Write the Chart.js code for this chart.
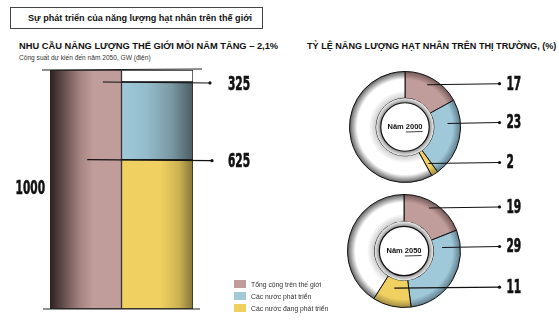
<!DOCTYPE html>
<html>
<head>
<meta charset="utf-8">
<script src="https://cdn.jsdelivr.net/npm/chart.js@4.4.1/dist/chart.umd.min.js"></script>
<style>
  body { margin:0; width:559px; height:327px; background:#fff; position:relative; overflow:hidden;
         font-family:'Liberation Sans', Arial, sans-serif; color:#111; }
  .abs { position:absolute; white-space:nowrap; }
  #titlebox { left:10px; top:7px; width:253px; height:22px; border:1px solid #444; box-sizing:border-box;
              font-size:9.1px; font-weight:bold; line-height:20px; padding-left:17px; }
  .head { font-size:9.3px; font-weight:bold; }
  .sub { font-size:6.6px; color:#333; }
  #legend div { height:12px; font-size:6.8px; color:#333; line-height:12px; }
  #legend span { display:inline-block; width:12px; height:8px; vertical-align:middle; margin-right:5px; margin-top:-2px; }
  canvas { position:absolute; }
</style>
</head>
<body>
<div id="titlebox" class="abs">Sự phát triển của năng lượng hạt nhân trên thế giới</div>
<div class="abs head" style="left:19px;top:41px">NHU CẦU NĂNG LƯỢNG THẾ GIỚI MỖI NĂM TĂNG – 2,1%</div>
<div class="abs sub" style="left:19px;top:54px">Công suất dự kiến đến năm 2050,  GW (điện)</div>
<div class="abs head" style="left:307px;top:41px;font-size:9.1px">TỶ LỆ NĂNG LƯỢNG HẠT NHÂN TRÊN THỊ TRƯỜNG, (%)</div>

<canvas id="bars" width="280" height="267" style="left:0;top:60px"></canvas>
<canvas id="d2000" width="219" height="130" style="left:340px;top:62px"></canvas>
<canvas id="d2050" width="219" height="135" style="left:340px;top:192px"></canvas>
<div id="legend" class="abs" style="left:234px;top:279px"></div>

<script>
// data
var seriesNames = ['Tổng cộng trên thế giới', 'Các nước phát triển', 'Các nước đang phát triển'];
var worldTotal = 1000;
var developed = 325;
var developing = 625;
var years = ['Năm 2000', 'Năm 2050'];
var share2000 = [17, 23, 2];
var share2050 = [19, 29, 11];

var pink = '#c09c9a', blue = '#9fc8d9', yellow = '#efd060';
var colors = [pink, blue, yellow];

// legend
var lg = document.getElementById('legend');
seriesNames.forEach(function (n, i) {
    var d = document.createElement('div');
    d.innerHTML = '<span style="background:' + colors[i] + '"></span>' + n;
    lg.appendChild(d);
});

function bigLabel(ctx, text, x, y, align) {
    var sx = 0.62;
    ctx.save();
    ctx.font = 'bold 19px "Liberation Sans Narrow", "DejaVu Sans Condensed", sans-serif';
    ctx.fillStyle = '#111';
    ctx.strokeStyle = '#111';
    ctx.lineWidth = 0.6;
    ctx.textBaseline = 'middle';
    var w = ctx.measureText(text).width * sx;
    ctx.translate(align === 'right' ? x - w : x, y);
    ctx.scale(sx, 1);
    ctx.fillText(text, 0, 0);
    ctx.strokeText(text, 0, 0);
    ctx.restore();
}

function leader(ctx, x0, y0, x1, y1) {
    ctx.save();
    ctx.strokeStyle = '#111';
    ctx.lineWidth = 1.1;
    ctx.beginPath();
    ctx.moveTo(x0, y0);
    ctx.lineTo(x1, y1);
    ctx.stroke();
    ctx.fillStyle = '#111';
    ctx.beginPath();
    ctx.arc(x1, y1, 1.6, 0, Math.PI * 2);
    ctx.fill();
    ctx.restore();
}

// bar gradients (stipple look)
function barFill(base, stops) {
    return function (c) {
        var chart = c.chart, area = chart.chartArea;
        if (!area) return base;
        var bw = area.width / 2;
        var cx = chart.scales.x.getPixelForValue(c.dataIndex);
        var g = chart.ctx.createLinearGradient(cx - bw / 2, 0, cx + bw / 2, 0);
        stops.forEach(function (s) { g.addColorStop(s[0], s[1]); });
        return g;
    };
}

var barDecor = {
    id: 'barDecor',
    afterDraw: function (chart) {
        var ctx = chart.ctx, a = chart.chartArea, x = chart.scales.x, y = chart.scales.y;
        var bw = a.width / 2;
        ctx.save();
        ctx.strokeStyle = '#222';
        ctx.lineWidth = 1.2;
        ctx.beginPath();
        ctx.moveTo(a.left - 8, y.getPixelForValue(worldTotal));
        ctx.lineTo(a.right + 9, y.getPixelForValue(worldTotal) - 1);
        ctx.moveTo(a.left - 7, y.getPixelForValue(0));
        ctx.lineTo(a.right + 7, y.getPixelForValue(0));
        ctx.stroke();
        ctx.restore();
        var yDev = y.getPixelForValue(developing + developed);
        var yIng = y.getPixelForValue(developing);
        leader(ctx, x.getPixelForValue(0) + bw * 0.24, yDev, a.right + 17, yDev + 1);
        leader(ctx, x.getPixelForValue(0) + bw * 0.02, yIng, a.right + 19, yIng + 1);
        bigLabel(ctx, String(developed), a.right + 35, yDev + 3);
        bigLabel(ctx, String(developing), a.right + 35, yIng + 2);
        bigLabel(ctx, String(worldTotal), a.left - 5, (y.getPixelForValue(worldTotal) + y.getPixelForValue(0)) / 2, 'right');
    }
};

new Chart(document.getElementById('bars'), {
    type: 'bar',
    data: {
        labels: ['world', '2050'],
        datasets: [
            { label: seriesNames[0], data: [worldTotal, null],
              backgroundColor: barFill(pink, [[0, '#2e2020'], [0.15, '#5a4545'], [0.42, '#a48482'], [0.6, pink], [1, pink]]) },
            { label: seriesNames[2], data: [null, developing],
              backgroundColor: barFill(yellow, [[0, yellow], [0.55, yellow], [0.8, '#cdb253'], [1, '#857436']]) },
            { label: seriesNames[1], data: [null, developed],
              backgroundColor: barFill(blue, [[0, blue], [0.35, '#94bccb'], [0.7, '#7a98a3'], [1, '#4a5c62']]) },
            { label: 'rest', data: [null, worldTotal - developed - developing], backgroundColor: '#fff' }
        ]
    },
    options: {
        responsive: false,
        animation: false,
        layout: { padding: { left: 50, right: 87, top: 10, bottom: 18 } },
        datasets: { bar: { barPercentage: 1, categoryPercentage: 1, borderWidth: 1, borderColor: '#222', borderSkipped: false } },
        scales: {
            x: { stacked: true, display: false },
            y: { stacked: true, display: false, min: 0, max: worldTotal }
        },
        plugins: { legend: { display: false }, tooltip: { enabled: false } }
    },
    plugins: [barDecor]
});

// doughnuts
var labelOffsets = [-0.78, -0.08, 0.64];
var ringStyles = [
    { base: pink, edge: '#6e5453' },
    { base: blue, edge: '#5c7885' },
    { base: yellow, edge: '#9a8640' },
    { base: '#fff', edge: '#555', inner: '#c8c8c8' }
];

function ringFill(c) {
    var s = ringStyles[c.dataIndex] || ringStyles[3];
    var area = c.chart.chartArea;
    if (!area) return s.base;
    var cx = (area.left + area.right) / 2, cy = (area.top + area.bottom) / 2;
    var r = Math.min(area.width, area.height) / 2;
    var g = c.chart.ctx.createRadialGradient(cx, cy, r * 0.5, cx, cy, r);
    g.addColorStop(0, s.inner || s.base);
    g.addColorStop(0.3, s.base);
    g.addColorStop(0.7, s.base);
    g.addColorStop(1, s.edge);
    return g;
}

function doughnutDecor(yearLabel, values) {
    return {
        id: 'ringDecor',
        afterDraw: function (chart) {
            var ctx = chart.ctx, arcs = chart.getDatasetMeta(0).data;
            var cx = arcs[0].x, cy = arcs[0].y, ro = arcs[0].outerRadius, ri = arcs[0].innerRadius;
            // inner circle with year
            ctx.save();
            var g = ctx.createRadialGradient(cx, cy, ri * 0.8, cx, cy, ri);
            g.addColorStop(0, '#777');
            g.addColorStop(1, '#eee');
            ctx.fillStyle = g;
            ctx.beginPath(); ctx.arc(cx, cy, ri, 0, Math.PI * 2); ctx.fill();
            ctx.fillStyle = '#fff';
            ctx.strokeStyle = '#111';
            ctx.lineWidth = 1.2;
            ctx.beginPath(); ctx.arc(cx, cy, ri * 0.84, 0, Math.PI * 2); ctx.fill(); ctx.stroke();
            ctx.font = 'bold 7.5px "Liberation Sans", Arial, sans-serif';
            ctx.fillStyle = '#111';
            ctx.textAlign = 'center';
            ctx.textBaseline = 'middle';
            ctx.fillText(yearLabel, cx, cy);
            var yw = ctx.measureText(yearLabel.split(' ')[1]).width;
            var tw = ctx.measureText(yearLabel).width;
            ctx.lineWidth = 0.8;
            ctx.beginPath();
            ctx.moveTo(cx + tw / 2 - yw, cy + 5);
            ctx.lineTo(cx + tw / 2, cy + 4.5);
            ctx.stroke();
            ctx.restore();
            // leader lines and values: start inside the segment, at the label's height
            values.forEach(function (v, i) {
                var a = arcs[i];
                var mid = (a.startAngle + a.endAngle) / 2;
                var rr = ri + (ro - ri) * 0.55;
                var px = cx + Math.cos(mid) * rr;
                var ly = cy + labelOffsets[i] * ro;
                leader(ctx, px, ly + 1, cx + ro + 39, ly);
                bigLabel(ctx, String(v), cx + ro + 46, ly + 1);
            });
        }
    };
}

function makeDoughnut(id, yearLabel, values, pad) {
    var rest = 100 - values.reduce(function (s, v) { return s + v; }, 0);
    new Chart(document.getElementById(id), {
        type: 'doughnut',
        data: {
            labels: seriesNames.concat(['Khác']),
            datasets: [{
                data: values.concat([rest]),
                backgroundColor: ringFill,
                borderColor: '#111',
                borderWidth: 1
            }]
        },
        options: {
            responsive: false,
            animation: false,
            cutout: '52%',
            layout: { padding: pad },
            plugins: { legend: { display: false }, tooltip: { enabled: false } }
        },
        plugins: [doughnutDecor(yearLabel, values)]
    });
}

makeDoughnut('d2000', years[0], share2000, { left: 9, right: 98, top: 9, bottom: 9 });
makeDoughnut('d2050', years[1], share2050, { left: 7, right: 98, top: 2, bottom: 19 });
</script>
</body>
</html>
